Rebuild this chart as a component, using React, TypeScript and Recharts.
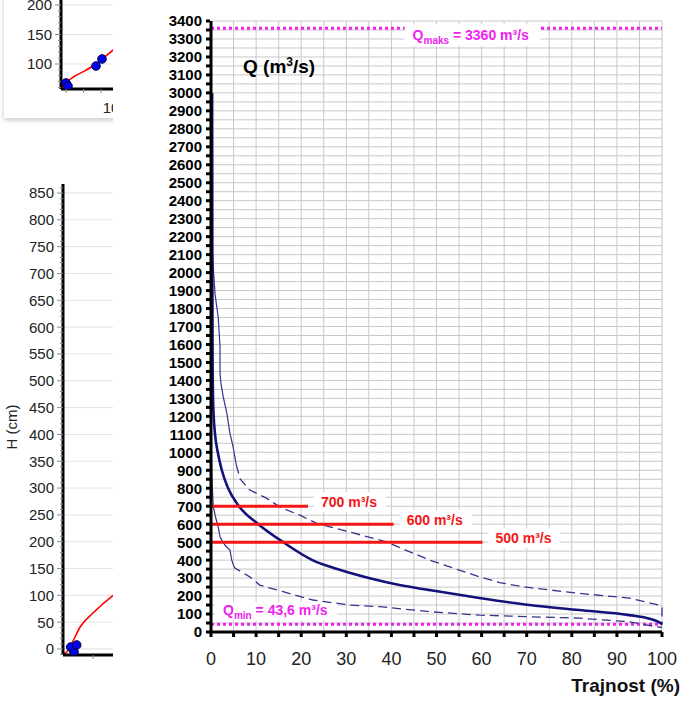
import React from 'react';
import { ComposedChart, Line, Scatter, XAxis, YAxis, CartesianGrid, ReferenceLine } from 'recharts';

const FONT = '"Liberation Sans", Arial, Helvetica, sans-serif';

// ---------- main chart: flow duration curve ----------
const durationPct = [0.25, 0.3, 0.35, 0.45, 0.6, 0.9, 1.5, 2.4, 3.8, 6.2, 10.5, 16, 22.5, 28, 35, 41.8, 48.5, 59.5, 70.6, 81.6, 92.7, 97, 99.3, 100];
const durationQ = [3000, 2000, 1500, 1300, 1200, 1100, 1000, 900, 800, 700, 600, 500, 400, 350, 300, 261, 233, 189, 150, 122, 94, 75, 55, 44];

const upperSolidPct = [0.15, 0.5, 0.9, 1.6, 2.0, 2.0, 2.2, 2.7, 3.5, 4.2, 4.9, 5.6];
const upperSolidQ = [2200, 2030, 1880, 1750, 1590, 1440, 1385, 1310, 1220, 1105, 1030, 930];
const upperDashPct = [5.6, 6.5, 8.6, 12.3, 15.3, 19.7, 23.4, 30.8, 38.5, 48.5, 59.5, 64, 69, 81.6, 92.7, 99.3, 100, 100];
const upperDashQ = [930, 850, 790, 745, 695, 650, 605, 556, 505, 400, 307, 275, 252, 215, 189, 150, 140, 40];

const lowerSolidPct = [0.1, 0.15, 0.3, 0.5, 1.0, 1.6, 2.0, 2.4, 3.2, 4.2, 4.6, 5.0];
const lowerSolidQ = [1000, 900, 800, 700, 640, 585, 530, 511, 480, 456, 400, 370];
const lowerDashPct = [5.0, 5.3, 8.6, 10.8, 16, 22.6, 30.8, 37.4, 48.5, 59.5, 70.6, 81.6, 92.7, 98.6, 100];
const lowerDashQ = [370, 356, 307, 261, 224, 178, 150, 141, 113, 94, 85, 77, 57, 30, 25];

const thresholdQ = [700, 600, 500];
const thresholdEndPct = [21.5, 40.5, 60.2];

const qMax = 3360;
const qMin = 43.6;

const qTicks = Array.from({ length: 69 }, (_, i) => i * 50);
const pctTicks = Array.from({ length: 21 }, (_, i) => i * 5);

// ---------- left chart: H (cm) rating ----------
const hCurveX = [3, 13, 30, 57, 100, 167, 250, 400];
const hCurveY = [-9, -5, 11, 41, 67, 100, 130, 180];
const hPointsX = [25.7, 36.7, 45.7];
const hPointsY = [3.7, -5.6, 7.5];
const hTicks = Array.from({ length: 88 }, (_, i) => -10 + i * 10);
const hMajor = Array.from({ length: 18 }, (_, i) => i * 50);
const hXTicks = [100];

// ---------- top-left card chart ----------
const tlCurveX = [0.13, 1.2, 2.5, 4.46, 7, 10.46, 15, 20];
const tlCurveY = [58.8, 69.5, 78, 87, 100, 123.7, 150, 172];
const tlPointsX = [1, 1.4, 7, 8.2];
const tlPointsY = [67.8, 62.7, 96.6, 108.5];
const tlYTicks = Array.from({ length: 18 }, (_, i) => 60 + i * 10);
const tlMajor = [100, 150, 200];
const tlXTicks = [1, 4.5, 8, 10];
const tlXLabels: Record<number, string> = { 10: '10' };

const zip = (xs: number[], ys: number[], kx: string, ky: string) => xs.map((v, i) => ({ [kx]: v, [ky]: ys[i] }));

const mainData = zip(durationPct, durationQ, 'p', 'q');
const upperSolid = zip(upperSolidPct, upperSolidQ, 'p', 'q');
const upperDash = zip(upperDashPct, upperDashQ, 'p', 'q');
const lowerSolid = zip(lowerSolidPct, lowerSolidQ, 'p', 'q');
const lowerDash = zip(lowerDashPct, lowerDashQ, 'p', 'q');
const hCurve = zip(hCurveX, hCurveY, 'x', 'y');
const hPoints = zip(hPointsX, hPointsY, 'x', 'y');
const tlCurve = zip(tlCurveX, tlCurveY, 'x', 'y');
const tlPoints = zip(tlPointsX, tlPointsY, 'x', 'y');

const MAGENTA = '#ee22ee';
const RED = '#f51515';
const NAVY = '#12127a';
const NAVY2 = '#34348c';

// ---------- tick renderers ----------
const QTick = (props: any) => {
  const { x, y, payload } = props;
  const v = payload.value;
  return (
    <g>
      <rect x={x - 5} y={y - 1.5} width={4} height={3} fill="#000" />
      {v % 100 === 0 && (
        <text x={x - 9} y={y} dy="0.36em" textAnchor="end" fontSize={15} fontWeight="bold" fill="#000" fontFamily={FONT}>
          {v}
        </text>
      )}
    </g>
  );
};

const PctTick = (props: any) => {
  const { x, y, payload } = props;
  const v = payload.value;
  return (
    <g>
      <rect x={x - 1.5} y={y} width={3} height={5} fill="#000" />
      {v % 10 === 0 && (
        <text x={x} y={y + 27} dy="0.35em" textAnchor="middle" fontSize={18} fill="#222" fontFamily={FONT}>
          {v}
        </text>
      )}
    </g>
  );
};

const makeSideYTick = (major: number[]) => (props: any) => {
  const { x, y, payload } = props;
  const v = payload.value;
  const isMajor = major.includes(v);
  return (
    <g>
      <line x1={x - (isMajor ? 6 : 3)} x2={x} y1={y} y2={y} stroke="#8a8a8a" strokeWidth={1} />
      {isMajor && (
        <text x={x - 9} y={y} dy="0.36em" textAnchor="end" fontSize={15} fill="#222" fontFamily={FONT}>
          {v}
        </text>
      )}
    </g>
  );
};

const makeSideXTick = (labels: Record<number, string>) => (props: any) => {
  const { x, y, payload } = props;
  const v = payload.value;
  const lab = labels[v];
  return (
    <g>
      {!lab && <line x1={x} x2={x} y1={y} y2={y + 4} stroke="#8a8a8a" strokeWidth={1} />}
      {lab && (
        <text x={x} y={y + 19} dy="0.35em" textAnchor="middle" fontSize={15} fill="#222" fontFamily={FONT}>
          {lab}
        </text>
      )}
    </g>
  );
};

const Dot = (p: any) => <circle cx={p.cx} cy={p.cy} r={4.3} fill="#0000ee" stroke="#00003a" strokeWidth={1} />;

// ---------- reference labels ----------
const QmaxLabel = (props: any) => {
  const vb = props.viewBox || {};
  const x = vb.x + vb.width * 0.447;
  const y = vb.y + 7;
  return (
    <g>
      <rect x={x - 8} y={y - 11} width={136} height={22} fill="#fff" />
      <text x={x} y={y} dy="0.36em" fill={MAGENTA} fontSize={14} fontWeight="bold" fontFamily={FONT}>
        <tspan>Q</tspan>
        <tspan fontSize={10} dy={4}>maks</tspan>
        <tspan dy={-4}>{` = ${qMax} m³/s`}</tspan>
      </text>
    </g>
  );
};

const QminLabel = (props: any) => {
  const vb = props.viewBox || {};
  const x = vb.x + 12;
  const y = vb.y - 14;
  return (
    <g>
      <rect x={x - 8} y={y - 8} width={122} height={18} fill="#fff" />
      <text x={x} y={y} dy="0.36em" fill={MAGENTA} fontSize={14} fontWeight="bold" fontFamily={FONT}>
        <tspan>Q</tspan>
        <tspan fontSize={10} dy={4}>min</tspan>
        <tspan dy={-4}>{` = ${String(qMin).replace('.', ',')} m³/s`}</tspan>
      </text>
    </g>
  );
};

const makeThresholdLabel = (q: number) => (props: any) => {
  const vb = props.viewBox || {};
  const x = vb.x + vb.width + 13;
  const y = vb.y - 4;
  return (
    <g>
      <rect x={x - 7} y={y - 10} width={72} height={20} fill="#fff" />
      <text x={x} y={y} dy="0.36em" fill={RED} fontSize={14} fontWeight="bold" fontFamily={FONT}>
        {`${q} m³/s`}
      </text>
    </g>
  );
};

export default function App() {
  return (
    <div style={{ position: 'absolute', left: 0, top: 0, width: 687, height: 706, overflow: 'hidden', background: '#fff', fontFamily: FONT }}>
      {/* top-left card (partially visible) */}
      <div style={{ position: 'absolute', left: 0, top: 0, width: 113, height: 128, overflow: 'hidden' }}>
        <div style={{ position: 'absolute', left: 4, top: -20, width: 300, height: 138, background: '#fff', boxShadow: '0 2px 5px rgba(0,0,0,0.22)' }}>
          <ComposedChart width={300} height={138} margin={{ top: 5, right: 5, bottom: 9, left: 0 }}>
            <CartesianGrid horizontalValues={tlMajor} vertical={false} stroke="#e2e2e2" />
            <XAxis type="number" dataKey="x" domain={[0, 47.6]} allowDataOverflow ticks={tlXTicks} interval={0} height={20}
              axisLine={{ stroke: '#000', strokeWidth: 3 }} tickLine={false} tickSize={0} tickMargin={0} tick={makeSideXTick(tlXLabels)} />
            <YAxis type="number" dataKey="y" domain={[57.6, 233.9]} allowDataOverflow ticks={tlYTicks} interval={0} width={57}
              axisLine={{ stroke: '#000', strokeWidth: 3 }} tickLine={false} tickSize={0} tickMargin={0} tick={makeSideYTick(tlMajor)} />
            <Line data={tlCurve} dataKey="y" type="monotone" stroke="#ff0000" strokeWidth={1.6} dot={false} activeDot={false} isAnimationActive={false} />
            <Scatter data={tlPoints} dataKey="y" shape={Dot} isAnimationActive={false} />
          </ComposedChart>
        </div>
      </div>

      {/* left chart H (cm), partially visible */}
      <div style={{ position: 'absolute', left: 0, top: 150, width: 113, height: 540, overflow: 'hidden' }}>
        <ComposedChart width={300} height={540} margin={{ top: 34, right: 0, bottom: 15, left: 0 }}>
          <CartesianGrid horizontalValues={hMajor} vertical={false} stroke="#e2e2e2" />
          <XAxis type="number" dataKey="x" domain={[0, 790]} allowDataOverflow ticks={hXTicks} interval={0} height={20}
            axisLine={{ stroke: '#000', strokeWidth: 3 }} tickLine={false} tickSize={0} tickMargin={0} tick={makeSideXTick({})} />
          <YAxis type="number" dataKey="y" domain={[-11.2, 866.8]} allowDataOverflow ticks={hTicks} interval={0} width={63}
            axisLine={{ stroke: '#000', strokeWidth: 3 }} tickLine={false} tickSize={0} tickMargin={0} tick={makeSideYTick(hMajor)} />
          <Line data={hCurve} dataKey="y" type="monotone" stroke="#ff0000" strokeWidth={1.6} dot={false} activeDot={false} isAnimationActive={false} />
          <Scatter data={hPoints} dataKey="y" shape={Dot} isAnimationActive={false} />
        </ComposedChart>
      </div>
      <div style={{ position: 'absolute', left: 12, top: 427, transform: 'translate(-50%, -50%) rotate(-90deg)', whiteSpace: 'nowrap', fontSize: 15, color: '#222', lineHeight: '18px' }}>
        H (cm)
      </div>

      {/* main chart */}
      <div style={{ position: 'absolute', left: 113, top: 0, width: 574, height: 706, background: '#fff' }}>
        <ComposedChart width={574} height={706} margin={{ top: 21, right: 25, bottom: 44, left: 0 }}>
          <CartesianGrid stroke="#c8c8c8" strokeWidth={1} />
          <XAxis type="number" dataKey="p" domain={[0, 100]} ticks={pctTicks} interval={0} height={30}
            axisLine={{ stroke: '#000', strokeWidth: 3 }} tickLine={false} tickSize={0} tickMargin={0} tick={(p: any) => <PctTick {...p} />} />
          <YAxis type="number" domain={[0, 3400]} ticks={qTicks} interval={0} width={98}
            axisLine={{ stroke: '#000', strokeWidth: 3 }} tickLine={false} tickSize={0} tickMargin={0} tick={(p: any) => <QTick {...p} />} />
          <ReferenceLine y={qMin} stroke={MAGENTA} strokeWidth={3} strokeDasharray="3 3" label={(p: any) => <QminLabel {...p} />} />
          <Line data={upperSolid} dataKey="q" type="linear" stroke={NAVY2} strokeWidth={1.2} dot={false} activeDot={false} isAnimationActive={false} />
          <Line data={upperDash} dataKey="q" type="linear" stroke={NAVY2} strokeWidth={1.3} strokeDasharray="9 5" dot={false} activeDot={false} isAnimationActive={false} />
          <Line data={lowerSolid} dataKey="q" type="linear" stroke={NAVY2} strokeWidth={1.2} dot={false} activeDot={false} isAnimationActive={false} />
          <Line data={lowerDash} dataKey="q" type="linear" stroke={NAVY2} strokeWidth={1.3} strokeDasharray="9 5" dot={false} activeDot={false} isAnimationActive={false} />
          <Line data={mainData} dataKey="q" type="monotone" stroke={NAVY} strokeWidth={2.6} dot={false} activeDot={false} isAnimationActive={false} />
          {thresholdQ.map((q, i) => (
            <ReferenceLine key={q} segment={[{ x: 0, y: q }, { x: thresholdEndPct[i], y: q }]} stroke={RED} strokeWidth={3}
              label={makeThresholdLabel(q)} />
          ))}
          <ReferenceLine y={qMax} stroke={MAGENTA} strokeWidth={3} strokeDasharray="3 3" label={(p: any) => <QmaxLabel {...p} />} />
        </ComposedChart>
      </div>
      <div style={{ position: 'absolute', left: 243, top: 55, fontSize: 19, fontWeight: 'bold', color: '#000', lineHeight: '24px', whiteSpace: 'nowrap' }}>
        Q (m<span style={{ fontSize: 12, position: 'relative', top: -7 }}>3</span>/s)
      </div>
      <div style={{ position: 'absolute', left: 540, width: 140, top: 675, fontSize: 19, fontWeight: 'bold', color: '#111', lineHeight: '22px', textAlign: 'right', whiteSpace: 'nowrap' }}>
        Trajnost (%)
      </div>
    </div>
  );
}
